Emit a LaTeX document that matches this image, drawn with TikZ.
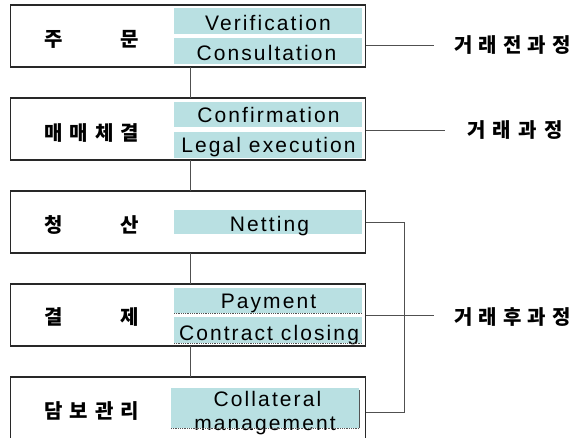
\documentclass[tikz,border=0pt]{standalone}
\usepackage{fontspec}
\setmainfont{Liberation Sans}
\newfontfamily\kr{Noto Sans CJK KR}
\newfontfamily\en[LetterSpace=10]{Liberation Sans}
\definecolor{tealbg}{RGB}{185,224,226}
\definecolor{edge}{RGB}{40,40,40}
\definecolor{conn}{RGB}{80,80,80}
\begin{document}
\begin{tikzpicture}[x=1pt,y=-1pt,
  mainbox/.style={draw=edge, line width=1.1pt, minimum width=355pt, minimum height=62pt, anchor=north west, inner sep=0pt, outer sep=0pt},
  tealrow/.style={fill=tealbg, draw=none, anchor=north west, inner sep=0pt, outer sep=0pt},
  entext/.style={anchor=base, inner sep=0pt, font=\en\fontsize{21}{21}\selectfont},
  krleft/.style={inner sep=0pt, font=\kr\bfseries\fontsize{20}{20}\selectfont},
  krright/.style={inner sep=0pt, font=\kr\bfseries\fontsize{20}{20}\selectfont},
  link/.style={draw=conn, line width=0.9pt},
  uline/.style={draw=edge!80, line width=0.8pt, densely dotted}
]
\useasboundingbox (0,0) rectangle (576,438);
\clip (0,0) rectangle (576,438);
\fill[white] (0,0) rectangle (576,438);

% main boxes
\node[mainbox] (b1) at (10.5,5) {};
\node[mainbox] (b2) at (10.5,98) {};
\node[mainbox] (b3) at (10.5,191) {};
\node[mainbox] (b4) at (10.5,284) {};
\node[mainbox] (b5) at (10.5,377) {};

% teal rows
\node[tealrow, minimum width=188pt, minimum height=26pt] (t1a) at (174,8) {};
\node[tealrow, minimum width=188pt, minimum height=26pt] (t1b) at (174,38) {};
\node[tealrow, minimum width=188pt, minimum height=25pt] (t2a) at (174,102) {};
\node[tealrow, minimum width=188pt, minimum height=26pt] (t2b) at (174,132) {};
\node[tealrow, minimum width=188pt, minimum height=24pt] (t3) at (174,210) {};
\node[tealrow, minimum width=188pt, minimum height=25pt] (t4a) at (174,288) {};
\node[tealrow, minimum width=188pt, minimum height=26pt] (t4b) at (174,317) {};
\node[tealrow, minimum width=188pt, minimum height=40pt] (t5) at (171,388) {};

% english texts
\node[entext] (e1a) at (268,31) {Verification};
\node[entext] (e1b) at (266.5,61) {Consultation};
\node[entext] (e2a) at (268.5,123) {Confirmation};
\node[entext] (e2b) at (268.5,153) {Legal execution};
\node[entext] (e3) at (269.5,231.5) {Netting};
\node[entext] (e4a) at (268.5,309) {Payment};
\node[entext] (e4b) at (269,341) {Contract closing};
\node[entext] (e5a) at (267.5,406.5) {Collateral};
\node[entext] (e5b) at (265,431) {management};

% underlines / shadow edges
\draw[uline] (t4a.south west) -- (t4a.south east);
\draw[uline] (t4b.south west) -- (t4b.south east);
\draw[uline] (t5.south west) -- (t5.south east);
\draw[edge!80, line width=0.8pt] ([yshift=-2pt]t5.north east) -- (t5.south east);

% korean left labels
\node[krleft] (k1) at (91.5,39) {\makebox[95pt][s]{주\hfill 문}};
\node[krleft] (k2) at (91.5,133) {\makebox[95pt][s]{매\hfill 매\hfill 체\hfill 결}};
\node[krleft] (k3) at (91.5,225) {\makebox[95pt][s]{청\hfill 산}};
\node[krleft] (k4) at (91.5,317.5) {\makebox[95pt][s]{결\hfill 제}};
\node[krleft] (k5) at (91.5,411.5) {\makebox[95pt][s]{담\hfill 보\hfill 관\hfill 리}};

% vertical connectors
\coordinate (cx) at (190,0);
\draw[link] (cx |- b1.south) -- (cx |- b2.north);
\draw[link] (cx |- b2.south) -- (cx |- b3.north);
\draw[link] (cx |- b3.south) -- (cx |- b4.north);
\draw[link] (cx |- b4.south) -- (cx |- b5.north);

% right labels
\node[krright] (r1) at (512.5,45) {\makebox[117pt][s]{거\hfill 래\hfill 전\hfill 과\hfill 정}};
\node[krright] (r2) at (515,130.5) {\makebox[96pt][s]{거\hfill 래\hfill 과\hfill 정}};
\node[krright] (r3) at (512.5,317) {\makebox[117pt][s]{거\hfill 래\hfill 후\hfill 과\hfill 정}};

% right connectors
\coordinate (l1) at (434,45);
\coordinate (l2) at (445,130);
\coordinate (l4) at (434,315);
\coordinate (bx) at (404,0);
\draw[link] (b1.east |- l1) -- (l1);
\draw[link] (b2.east |- l2) -- (l2);
\draw[link] (b4.east |- l4) -- (l4);
\coordinate (y3) at (0,222);
\coordinate (y5) at (0,412);
\draw[link] (b3.east |- y3) -- (bx |- y3) -- (bx |- y5) -- (b5.east |- y5);
\end{tikzpicture}
\end{document}
